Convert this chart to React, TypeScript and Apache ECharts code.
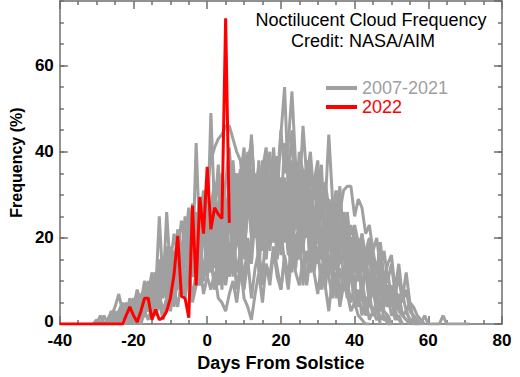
import React, { useEffect, useRef } from "react";
import * as echarts from "echarts";

// ---- Data -------------------------------------------------------------
// 2022 daily frequency (%), starting at day -40
const start2022 = -40;
const freq2022 = [
  0, 0, 0, 0, 0, 0, 0, 0, 0, 0, 0, 0, 0, 0, 0, 0, 0, 0,
  2, 4, 2, 0.5, 3, 6, 6, 1, 3.4, 1, 1.5, 3, 6, 11.5, 20.5, 6.5, 6, 1.5,
  27.5, 9, 29.5, 21, 36.5, 22, 27, 25.5, 24.5, 71, 23.5,
];

// 2007-2021 daily frequency (%), each with its own first day (grayStarts)
const y2007 = [0,1,3,0,2,4,1,3,6,2, 5,9,3,8,12,6,10,16,8,14, 20,11,17,26,13,42,19,30,14,27, 33,18,29,12,25,36,20,31,15,28, 34,21,38,17,29,24,35,19,32,26, 16,30,22,34,18,27,13,25,20,31, 14,24,10,21,16,26,9,18,12,20, 7,15,5,11,8,3,9,4,6,1, 2,0];
const y2008 = [0,2,0,1,4,2,0,3,5,2, 8,4,11,6,9,15,7,18,12,22, 16,25,13,28,19,24,31,20,49,26, 37,22,33,41,27,35,19,38,30,44, 28,36,23,40,31,26,39,21,34,29, 37,24,31,18,33,27,22,30,16,25, 20,28,13,22,17,11,19,8,14,9, 12,5,8,3,6,1,2,0];
const y2009 = [0,1,3,1,2,5,3,1,6,4, 9,5,12,8,14,10,17,11,19,15, 22,14,26,18,29,32,38,41,43,44, 46,46,43,40,38,30,36,24,33,27, 38,22,31,26,35,19,29,33,21,30, 25,17,28,20,14,24,18,11,21,15, 8,17,12,6,13,9,4,10,5,7, 2,3,0];
const y2010 = [0,3,1,5,2,4,7,2,5,9, 4,11,7,13,9,6,15,10,18,12, 20,14,9,23,17,12,26,19,8,22, 29,16,24,33,20,40,27,35,23,31, 38,26,41,30,44,55,33,45,28,40, 35,24,31,20,27,37,18,26,14,22, 29,16,21,11,18,13,7,15,9,12, 5,8,3,2,0];
const y2011 = [0,2,4,1,6,3,8,5,2,7, 10,6,13,9,15,11,8,17,12,20, 15,23,11,19,26,16,29,21,13,25, 32,20,38,27,43,30,24,36,41,28, 39,33,45,35,42,54,37,30,46,34, 40,29,36,24,33,27,21,31,18,26, 22,14,20,10,17,12,7,14,9,11, 4,7,2,3,1,0];
const y2012 = [0,2,4,7,3,1,5,2,6,3, 8,4,10,6,12,9,15,7,13,18, 11,20,14,23,10,19,25,16,22,13, 27,18,24,12,29,21,33,17,26,30, 22,35,19,31,27,38,24,34,20,29, 36,25,32,21,38,28,34,23,30,27,44, 29,22,32,18,26,15,23,19,12,17, 20,10,14,7,12,5,9,3,6,2, 1,0];
const y2013 = [0,1,3,0,4,2,6,3,8,5, 10,7,12,9,15,11,18,13,16,21, 14,19,24,12,22,17,27,15,20,25, 18,29,14,24,31,20,27,16,33,22, 28,19,35,24,30,17,33,26,21,36, 23,30,19,27,34,22,29,24,30,26, 31,32,32,25,29,27,21,23,17,20, 13,17,10,14,7,11,5,8,3,2, 1,0];
const y2014 = [0,1,0,3,1,4,2,5,1,6, 3,8,4,10,6,12,5,9,14,7, 11,16,8,13,19,9,15,22,12,17, 10,20,14,25,16,11,22,18,27,15, 24,19,29,21,16,26,20,31,23,18, 27,21,15,24,19,28,17,22,13,20, 18,11,21,14,9,17,12,19,10,14, 16,8,14,6,12,5,4,2,1,0];
const y2015 = [0,2,0,1,0,3,1,4,2,5, 3,6,2,8,5,10,7,25,9,13, 8,15,11,18,9,16,20,12,17,10, 19,13,21,9,16,22,11,18,8,14, 6,4,1,7,12,5,14,9,17,11, 8,15,10,19,13,22,9,17,12,20, 14,18,8,16,11,15,6,13,9,12, 4,8,2,6,1,3,5,1,2,0, 0];
const y2016 = [0,1,3,5,2,4,7,3,6,10, 5,9,13,8,26,12,16,10,19,14, 22,17,26,13,24,29,18,32,21,27, 15,30,23,35,19,27,33,21,29,12, 25,31,17,28,22,34,19,26,14,30, 23,18,28,12,24,20,15,26,11,19, 22,14,17,9,20,12,16,7,13,10, 15,6,11,8,4,9,5,7,2,3, 1,0,0];
const y2017 = [0,1,3,1,2,5,2,4,7,3, 6,9,4,11,7,10,13,6,12,9, 14,11,8,12,6,5,3,7,10,5, 12,8,15,6,13,17,9,14,11,18, 13,8,16,11,19,12,9,15,10,17, 12,7,14,9,3,11,6,13,8,10, 5,9,4,7,2,5,3,1,2,1, 1,0];
const y2018 = [0,1,3,5,2,6,4,8,5,10, 7,12,9,15,11,18,14,21,16,24, 19,27,22,17,29,24,33,20,30,26, 35,23,31,38,27,34,41,25,36,30, 22,37,32,40,28,35,26,42,33,38, 29,36,24,31,37,22,33,27,19,29, 24,31,20,26,16,23,19,13,21,15, 18,10,14,8,12,6,9,4,5,2, 3,1,1,0];
const y2019 = [0,2,0,3,1,4,2,6,3,5, 9,5,12,7,14,10,17,12,19,15, 22,16,25,19,28,14,26,21,30,24, 33,20,29,36,25,38,42,30,37,26, 40,31,35,27,22,14,8,17,25,32, 36,28,23,33,38,26,31,20,29,24, 30,21,26,17,22,13,19,15,10,12, 8,13,6,9,4,7,3,2,1,0];
const y2020 = [0,2,1,4,2,5,3,7,4,8, 6,10,5,12,8,14,9,16,11,13, 18,12,20,15,9,17,22,14,19,11, 21,16,24,13,20,26,17,22,15,25, 19,27,16,23,18,12,21,15,19,9, 16,12,18,8,14,11,6,12,4,9, 7,3,5,2,1,0,0];
const y2021 = [0,1,0,2,0,3,1,0,2,4, 2,5,3,7,4,9,6,11,8,14, 10,16,13,20,15,23,17,26,19,28, 22,30,18,27,33,24,29,21,35,26, 31,23,37,28,20,33,26,36,24,30, 34,25,31,22,28,35,24,30,20,27, 23,29,18,26,21,15,24,18,22,13, 20,15,10,17,12,16,8,14,11,7, 12,6,9,4,7,3,5,1,0,0, 2,0,0,0,0,2,0,0,0,0, 0,0,0];

const grayYears = [y2007, y2008, y2009, y2010, y2011, y2012, y2013, y2014, y2015, y2016, y2017, y2018, y2019, y2020, y2021];
const grayStarts = [-28, -27, -25, -24, -22, -27, -23, -20, -30, -25, -21, -26, -24, -22, -31];

const xTicks = { min: -40, max: 80, step: 20 };
const yTicks = { min: 0, max: 75, step: 20, minor: 5 };

// ---- Styles -----------------------------------------------------------
const FONT = '"Liberation Sans", Arial, Helvetica, sans-serif';
const FRAME = "#6e6e6e";
const GRAY = "#a0a0a0";
const RED = "#ff0000";

const toPoints = (start: number, vals: number[]) => vals.map((v, i) => [start + i, v]);

export default function App() {
  const ref = useRef<HTMLDivElement>(null);

  useEffect(() => {
    if (!ref.current) return;
    const chart = echarts.init(ref.current, undefined, { renderer: "svg" });

    const frameLine = { show: true, onZero: false, lineStyle: { color: FRAME, width: 1.5 } };
    const tickStyle = { color: FRAME, width: 1.5 };
    const labelStyle = { color: "#000", fontFamily: FONT, fontWeight: "bold" as const, fontSize: 17 };

    const xCommon = {
      type: "value" as const,
      min: xTicks.min,
      max: xTicks.max,
      interval: xTicks.step,
      axisLine: frameLine,
      axisTick: { show: true, inside: true, length: 8, lineStyle: tickStyle },
      minorTick: { show: true, splitNumber: 4, length: 4, lineStyle: tickStyle },
      splitLine: { show: false },
    };

    const yMajor = {
      type: "value" as const,
      min: yTicks.min,
      max: yTicks.max,
      interval: yTicks.step,
      axisLine: frameLine,
      axisTick: { show: true, inside: true, length: 8, lineStyle: tickStyle },
      splitLine: { show: false },
    };
    const yMinor = {
      type: "value" as const,
      min: yTicks.min,
      max: yTicks.max,
      interval: yTicks.minor,
      axisLine: { show: false, onZero: false },
      axisTick: { show: true, inside: true, length: 4, lineStyle: tickStyle },
      axisLabel: { show: false },
      splitLine: { show: false },
    };

    const graySeries = grayYears.map((vals, k) => ({
      name: "2007-2021",
      type: "line" as const,
      data: toPoints(grayStarts[k], vals),
      showSymbol: false,
      symbol: "none",
      color: GRAY,
      lineStyle: { color: GRAY, width: 3 },
      z: 2,
    }));

    chart.setOption({
      animation: false,
      grid: { left: 58, right: 18, top: 1, bottom: 48, containLabel: false },
      legend: {
        left: 326,
        top: 79,
        orient: "vertical",
        padding: 0,
        itemGap: 1,
        icon: "rect",
        itemWidth: 31,
        itemHeight: 4,
        selectedMode: false,
        textStyle: { fontFamily: FONT, fontSize: 18, lineHeight: 18 },
        data: [
          { name: "2007-2021", textStyle: { color: GRAY } },
          { name: "2022", textStyle: { color: RED } },
        ],
      },
      graphic: [
        {
          type: "text",
          x: 371,
          y: 20,
          style: {
            text: "Noctilucent Cloud Frequency",
            font: `18px ${FONT}`,
            fill: "#000",
            textAlign: "center",
            textVerticalAlign: "middle",
            align: "center",
            verticalAlign: "middle",
          },
        },
        {
          type: "text",
          x: 363,
          y: 41,
          style: {
            text: "Credit: NASA/AIM",
            font: `18px ${FONT}`,
            fill: "#000",
            textAlign: "center",
            textVerticalAlign: "middle",
            align: "center",
            verticalAlign: "middle",
          },
        },
      ],
      xAxis: [
        {
          ...xCommon,
          position: "bottom",
          axisLabel: { ...labelStyle, margin: 8 },
          name: "Days From Solstice",
          nameLocation: "middle",
          nameGap: 27,
          nameTextStyle: { ...labelStyle, fontSize: 18 },
        },
        { ...xCommon, position: "top", axisLabel: { show: false } },
      ],
      yAxis: [
        {
          ...yMajor,
          position: "left",
          axisLabel: {
            ...labelStyle,
            margin: 6,
            showMaxLabel: false,
            formatter: (v: number) => (v === 0 ? "{z|0}" : String(v)),
            rich: { z: { ...labelStyle, padding: [0, 0, 5, 0] } },
          },
          name: "Frequency (%)",
          nameLocation: "middle",
          nameGap: 35,
          nameTextStyle: { ...labelStyle, fontSize: 16 },
        },
        { ...yMinor, position: "left" },
        { ...yMajor, position: "right", axisLabel: { show: false } },
        { ...yMinor, position: "right" },
      ],
      series: [
        ...graySeries,
        {
          name: "2022",
          type: "line",
          data: toPoints(start2022, freq2022),
          showSymbol: false,
          symbol: "none",
          color: RED,
          lineStyle: { color: RED, width: 3 },
          z: 3,
        },
      ],
    });

    return () => chart.dispose();
  }, []);

  return (
    <div
      ref={ref}
      style={{ position: "fixed", left: 0, top: 0, width: 520, height: 377, background: "#fff" }}
    />
  );
}
